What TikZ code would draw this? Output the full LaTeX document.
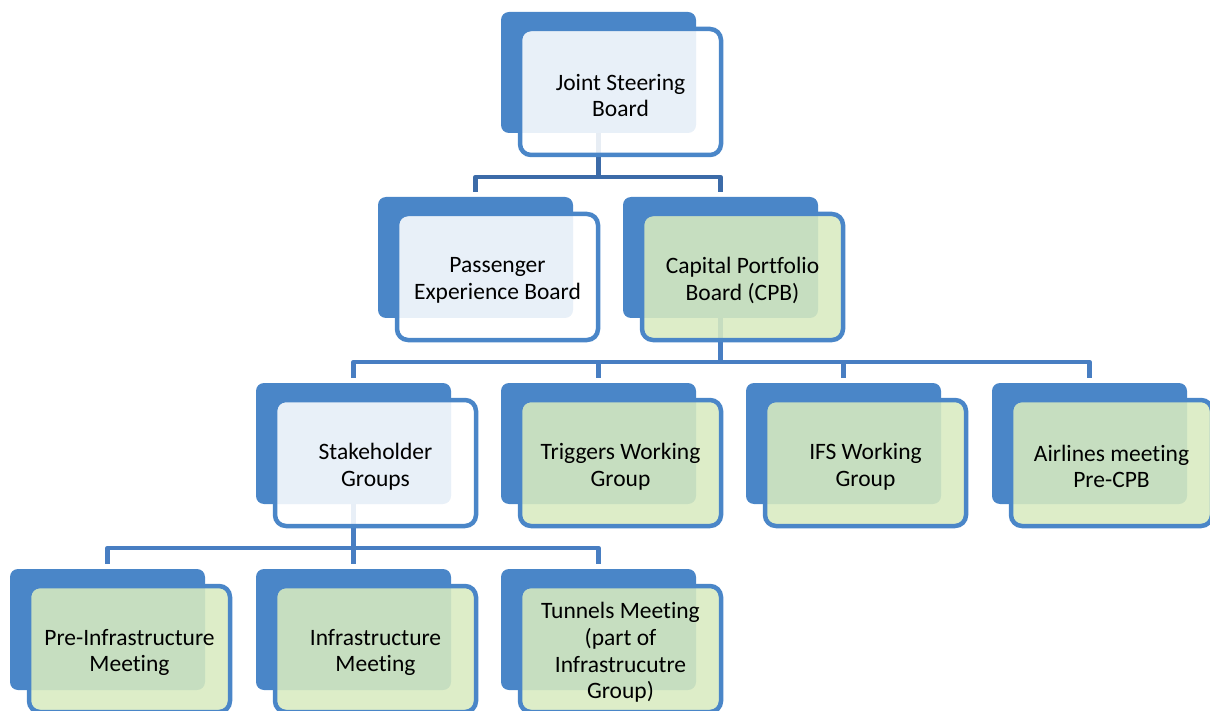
\documentclass[tikz,border=0pt]{standalone}
\usepackage{fontspec}
\setmainfont{Carlito}[Ligatures={NoCommon,NoRare}]
\usetikzlibrary{backgrounds}
\definecolor{accblue}{RGB}{74,134,200}
\definecolor{connA}{RGB}{60,107,168}
\definecolor{connB}{RGB}{72,126,194}
\definecolor{lgreen}{RGB}{216,235,192}
\tikzset{
  backbox/.style={rectangle, rounded corners=8pt, fill=accblue, minimum width=195pt, minimum height=121pt, inner sep=0pt, outer sep=0pt},
  frontbox/.style={rectangle, rounded corners=11pt, draw=accblue, line width=4.5pt, minimum width=201pt, minimum height=126pt, inner sep=0pt, outer sep=0pt, fill opacity=0.88},
  boxtext/.style={inner sep=0pt, align=center, font=\fontsize{23.5}{26.8}\selectfont},
  conn/.style={line width=4.5pt, draw=connB, line join=round, shorten >=5pt},
  connfirst/.style={conn, draw=connA},
}
\newcommand\orgbox[5]{%
  \node[backbox] (#1) at ({#2+97.5},{#3+60.5}) {};
  \node[frontbox, fill=#4] (#1f) at ({#2+119.5},{#3+80}) {};
  \node[boxtext] (#1t) at ([yshift=-3.5pt]#1f.center) {#5};
}
\begin{document}
\begin{tikzpicture}[x=1pt,y=-1pt]
\useasboundingbox (0,0) rectangle (1210,711);
\clip (0,0) rectangle (1210,711);
\orgbox{jsb}{501}{12}{white}{Joint Steering\\Board}
\orgbox{peb}{378}{197}{white}{Passenger\\Experience Board}
\orgbox{cpb}{623}{197}{lgreen}{Capital Portfolio\\Board (CPB)}
\orgbox{stk}{256}{383}{white}{Stakeholder\\Groups}
\orgbox{trg}{501}{383}{lgreen}{Triggers Working\\Group}
\orgbox{ifs}{746}{383}{lgreen}{IFS Working\\Group}
\orgbox{air}{992}{383}{lgreen}{Airlines meeting\\Pre-CPB}
\orgbox{pre}{10}{569}{lgreen}{Pre-Infrastructure\\Meeting}
\orgbox{inf}{256}{569}{lgreen}{Infrastructure\\Meeting}
\orgbox{tun}{501}{569}{lgreen}{Tunnels Meeting\\(part of\\Infrastrucutre\\Group)}
\begin{pgfonlayer}{background}
  \foreach \c in {peb,cpb}
    \draw[connfirst] (jsb.south) |- (\c.north |- 0,177) -- (\c.north);
  \foreach \c in {stk,trg,ifs,air}
    \draw[conn] (cpb.south) |- (\c.north |- 0,362) -- (\c.north);
  \foreach \c in {pre,inf,tun}
    \draw[conn] (stk.south) |- (\c.north |- 0,548) -- (\c.north);
\end{pgfonlayer}
\end{tikzpicture}
\end{document}
